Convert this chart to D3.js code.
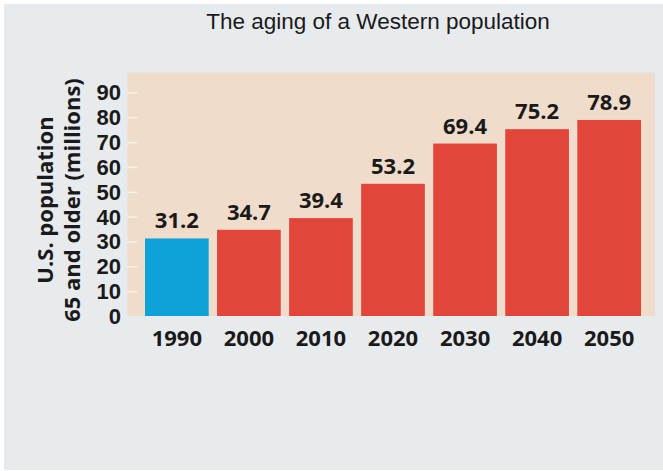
<!DOCTYPE html>
<html>
<head>
<meta charset="utf-8">
<script src="https://cdn.jsdelivr.net/npm/d3@7"></script>
<style>
html,body{margin:0;padding:0;background:#ffffff;}
svg{display:block;}
</style>
</head>
<body>
<svg id="chart" width="663" height="471"></svg>
<script>
const categories = ["1990","2000","2010","2020","2030","2040","2050"];
const values = [31.2, 34.7, 39.4, 53.2, 69.4, 75.2, 78.9];
const yTicks = [0,10,20,30,40,50,60,70,80,90];
const title = "The aging of a Western population";
const yTitle = ["U.S. population", "65 and older (millions)"];

const svg = d3.select("#chart");
const W = 663, H = 471;

// background panel
svg.append("rect").attr("x",4).attr("y",4).attr("width",W-4).attr("height",H-5).attr("fill","#e8ebee");

const plot = {left:127.5, right:655, top:72.5, bottom:316};
svg.append("rect").attr("x",plot.left).attr("y",plot.top)
  .attr("width",plot.right-plot.left).attr("height",plot.bottom-plot.top).attr("fill","#f0dccb");

const x = d3.scaleBand().domain(categories).range([145,641]).paddingInner(0.116).paddingOuter(0);
const y = d3.scaleLinear().domain([0,98]).range([plot.bottom, plot.top]);

// y axis (white tick marks inside plot)
const yAxis = d3.axisRight(y).tickValues(yTicks).tickSize(10).tickFormat("");
const yg = svg.append("g").attr("transform",`translate(${plot.left},0)`).call(yAxis);
yg.select(".domain").remove();
yg.selectAll(".tick line").attr("stroke","#f8f1e6").attr("stroke-width",1.5);
yg.selectAll(".tick").filter(d=>d===0).remove();

// y tick labels
svg.append("g").selectAll("text").data(yTicks).join("text")
  .attr("x",121).attr("y",d=>y(d)).attr("dy","0.36em")
  .attr("text-anchor","end")
  .attr("font-family","'Liberation Sans', Arial, sans-serif").attr("font-weight",700).attr("font-size",22)
  .attr("fill","#1a1a1a").text(d=>d);

// bars
svg.append("g").selectAll("rect").data(categories).join("rect")
  .attr("x",d=>x(d)).attr("width",x.bandwidth())
  .attr("y",(d,i)=>y(values[i])).attr("height",(d,i)=>y(0)-y(values[i]))
  .attr("fill",(d,i)=>i===0?"#0ea3d8":"#e2453a");

// value labels
svg.append("g").selectAll("text").data(categories).join("text")
  .attr("x",d=>x(d)+x.bandwidth()/2).attr("y",(d,i)=>y(values[i])-10)
  .attr("text-anchor","middle")
  .attr("font-family","'Open Sans', sans-serif").attr("font-weight",700).attr("font-size",22)
  .attr("fill","#1a1a1a").text((d,i)=>values[i].toFixed(1));

// x axis labels
const xAxis = d3.axisBottom(x).tickSize(0).tickPadding(0);
const xg = svg.append("g").attr("transform",`translate(0,346)`).call(xAxis);
xg.select(".domain").remove();
xg.selectAll(".tick text").attr("dy",0).attr("y",0)
  .attr("font-family","'Open Sans', sans-serif").attr("font-weight",700).attr("font-size",22)
  .attr("fill","#1a1a1a");

// y title
const yt = svg.append("text").attr("transform","translate(0,200) rotate(-90)")
  .attr("text-anchor","middle")
  .attr("font-family","'Open Sans', sans-serif").attr("font-weight",700).attr("font-size",22)
  .attr("fill","#1a1a1a");
yt.append("tspan").attr("x",0).attr("y",53).text(yTitle[0]);
yt.append("tspan").attr("x",0).attr("y",80).text(yTitle[1]);

// title
svg.append("text").attr("x",378).attr("y",29).attr("text-anchor","middle")
  .attr("font-family","'Liberation Sans', Arial, sans-serif").attr("font-size",22.5)
  .attr("fill","#1a1a1a").text(title);
</script>
</body>
</html>
